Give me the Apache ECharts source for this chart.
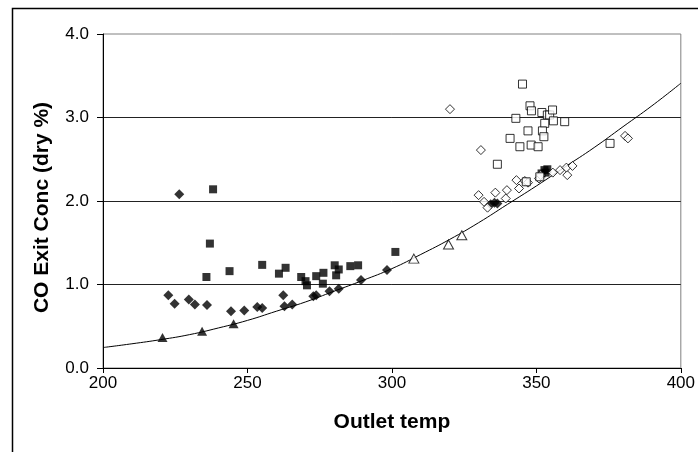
<!DOCTYPE html>
<html>
<head>
<meta charset="utf-8">
<script src="https://cdn.jsdelivr.net/npm/echarts@6/dist/echarts.min.js"></script>
<style>
html,body{margin:0;padding:0;background:#fff;}
#chart{width:698px;height:452px;}
</style>
</head>
<body>
<div id="chart"></div>
<script>
// ---- data ----
var xTicks = [200, 250, 300, 350, 400];
var yTicks = [0, 1, 2, 3, 4];

var filledDiamonds = [[226.4,2.08],[222.6,0.87],[224.8,0.77],[229.7,0.82],[231.8,0.76],[236.0,0.755],
  [244.3,0.68],[248.9,0.69],[253.4,0.73],[255.1,0.72],[262.4,0.87],[262.8,0.74],[265.5,0.76],
  [272.8,0.86],[273.8,0.87],[278.4,0.92],[281.6,0.95],[289.3,1.055],[298.3,1.175],
  [334.2,1.96],[335.5,1.98],[336.5,1.97]];

var filledSquares = [[238.1,2.14],[237.0,1.49],[235.8,1.09],[243.8,1.16],[255.1,1.235],[260.9,1.13],
  [263.2,1.20],[268.6,1.09],[270.1,1.04],[270.6,0.99],[273.8,1.10],[276.3,1.14],[276.1,1.01],
  [280.2,1.23],[281.6,1.18],[280.7,1.11],[285.6,1.22],[288.3,1.23],[301.2,1.39],
  [351.8,2.33],[352.8,2.37],[353.8,2.38],[353.2,2.34]];

var filledTriangles = [[220.6,0.365],[234.3,0.44],[245.2,0.53]];

var openDiamonds = [[320.1,3.10],[330.8,2.61],[330.0,2.07],[331.9,1.99],[333.1,1.92],[335.8,2.10],
  [339.8,2.13],[339.4,2.03],[343.1,2.25],[344.0,2.15],[346.0,2.24],[347.1,2.22],[350.9,2.27],
  [351.5,2.31],[355.7,2.34],[358.2,2.37],[360.7,2.31],[360.4,2.40],[362.5,2.42],[380.7,2.78],[381.7,2.75]];

var openSquares = [[345.2,3.40],[347.8,3.14],[348.3,3.08],[342.9,2.99],[351.9,3.06],[353.8,3.03],
  [354.6,3.03],[355.6,3.09],[355.9,2.96],[359.8,2.95],[352.9,2.93],[347.1,2.84],[352.1,2.84],
  [352.6,2.77],[340.9,2.75],[344.3,2.65],[348.2,2.67],[350.6,2.65],[336.5,2.44],[375.5,2.69],
  [346.5,2.23],[351.2,2.29]];

var openTriangles = [[307.6,1.31],[319.6,1.48],[324.2,1.59]];

var trendX = [200,210,220,230,240,250,260,270,280,290,300,310,320,330,340,350,360,370,380,390,400];
var trendY = [0.245,0.29,0.34,0.40,0.48,0.57,0.68,0.79,0.92,1.05,1.19,1.36,1.54,1.74,1.96,2.18,2.41,2.64,2.89,3.14,3.41];

// ---- chart ----
var chart = echarts.init(document.getElementById('chart'), null, {renderer:'canvas'});
var FONT = 'Liberation Sans, Arial, sans-serif';

function scatter(name, data, symbol, size, filled) {
  return {
    name: name, type: 'scatter', data: data, symbol: symbol, symbolSize: size,
    itemStyle: filled ? {color:'#000', borderColor:'#000', borderWidth:0}
                      : {color:'#fff', borderColor:'#000', borderWidth:1},
    emphasis: {disabled:true}, z: filled ? 3 : 4, silent: true
  };
}

var option = {
  animation: false,
  backgroundColor: '#fff',
  grid: {left:103, right:16, top:34, bottom:84, show:true, borderColor:'#808080', borderWidth:1, backgroundColor:'transparent'},
  graphic: [{
    type:'rect', shape:{x:12.5, y:8.5, width:720, height:480},
    style:{fill:'none', stroke:'#000', lineWidth:1.5}, silent:true, z:0
  }],
  xAxis: {
    type:'value', min:xTicks[0], max:xTicks[xTicks.length-1], interval:50,
    name:'Outlet temp', nameLocation:'middle', nameGap:44,
    nameTextStyle:{fontFamily:FONT, fontWeight:'bold', fontSize:21, color:'#000'},
    axisLine:{show:true, lineStyle:{color:'#000', width:1}},
    axisTick:{show:true, inside:false, length:5, lineStyle:{color:'#000'}},
    axisLabel:{fontFamily:FONT, fontSize:17, color:'#000', margin:7},
    splitLine:{show:false}
  },
  yAxis: {
    type:'value', min:yTicks[0], max:yTicks[yTicks.length-1], interval:1,
    name:'CO Exit Conc (dry %)', nameLocation:'middle', nameGap:50,
    nameTextStyle:{fontFamily:FONT, fontWeight:'bold', fontSize:21, color:'#000', padding:[0,13,0,0]},
    axisLine:{show:true, lineStyle:{color:'#000', width:1}},
    axisTick:{show:true, inside:false, length:6, lineStyle:{color:'#000'}},
    axisLabel:{fontFamily:FONT, fontSize:17, color:'#000', margin:14,
      formatter:function(v){return v.toFixed(1);}},
    splitLine:{show:true, showMinLine:false, showMaxLine:false, lineStyle:{color:'#222', width:1}}
  },
  series: [
    {
      name:'trend', type:'line', data: trendX.map(function(x,i){return [x, trendY[i]];}),
      smooth:true, showSymbol:false, symbol:'none',
      lineStyle:{color:'#000', width:1}, z:2, silent:true
    },
    scatter('filled diamonds', filledDiamonds, 'diamond', [10,10], true),
    scatter('filled squares', filledSquares, 'rect', [8,8], true),
    scatter('filled triangles', filledTriangles, 'triangle', [10,9], true),
    scatter('open diamonds', openDiamonds, 'diamond', [9,9], false),
    scatter('open squares', openSquares, 'rect', [8,8], false),
    scatter('open triangles', openTriangles, 'triangle', [10,9], false)
  ]
};
chart.setOption(option);
</script>
</body>
</html>
